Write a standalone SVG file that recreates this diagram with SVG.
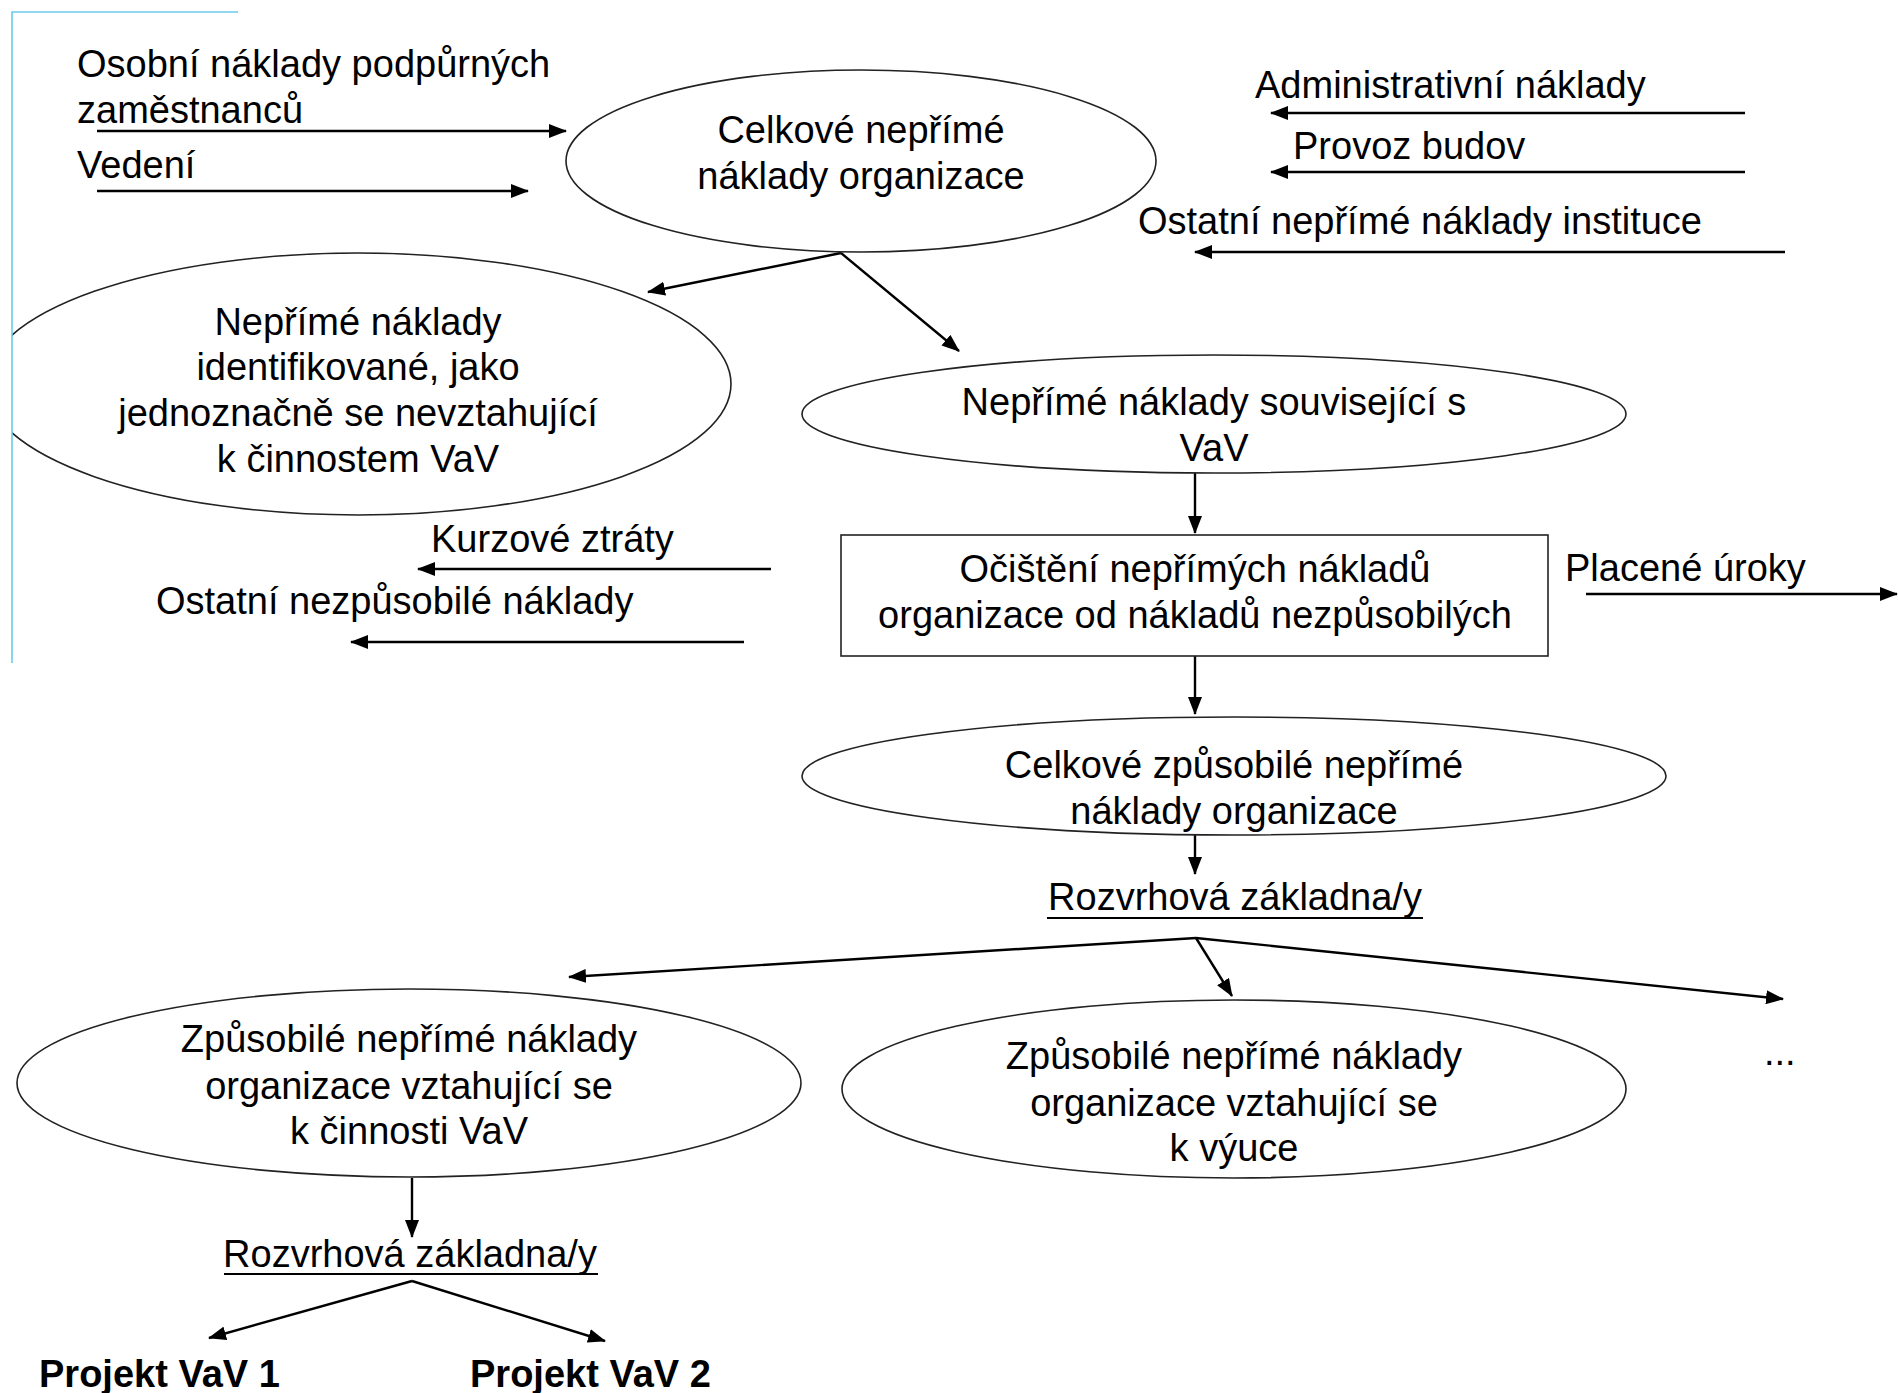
<svg xmlns="http://www.w3.org/2000/svg" width="1898" height="1393" viewBox="0 0 1898 1393">
<style>
text{font-family:"Liberation Sans",Arial,sans-serif;font-size:38px;fill:#000}
.c{text-anchor:middle}
.b{font-weight:bold}
.node{fill:#fff;stroke:#222;stroke-width:1.6}
.arr{stroke:#000;stroke-width:2.4;fill:none;marker-end:url(#ah)}
.ul{stroke:#000;stroke-width:2}
.frame{stroke:#6ccbea;stroke-width:1.6;fill:none}
</style>
<defs>
<marker id="ah" markerUnits="userSpaceOnUse" markerWidth="18" markerHeight="14" refX="17" refY="7" orient="auto">
<path d="M0,0 L18,7 L0,14 z" fill="#000"/>
</marker>
<clipPath id="clipL"><rect x="12" y="0" width="1886" height="1393"/></clipPath>
</defs>
<rect x="0" y="0" width="1898" height="1393" fill="#fff"/>

<g id="connectors">
<line class="arr" x1="97" y1="131" x2="566" y2="131"/>
<line class="arr" x1="97" y1="191" x2="528" y2="191"/>
<line class="arr" x1="1745" y1="113" x2="1271" y2="113"/>
<line class="arr" x1="1745" y1="172" x2="1271" y2="172"/>
<line class="arr" x1="1785" y1="252" x2="1195" y2="252"/>
<line class="arr" x1="841" y1="253" x2="648" y2="292"/>
<line class="arr" x1="841" y1="253" x2="959" y2="351"/>
<line class="arr" x1="1195" y1="473" x2="1195" y2="533"/>
<line class="arr" x1="771" y1="569" x2="418" y2="569"/>
<line class="arr" x1="744" y1="642" x2="351" y2="642"/>
<line class="arr" x1="1586" y1="594" x2="1897" y2="594"/>
<line class="arr" x1="1195" y1="656" x2="1195" y2="714"/>
<line class="arr" x1="1195" y1="835" x2="1195" y2="874"/>
<line class="arr" x1="1196" y1="938" x2="569" y2="977"/>
<line class="arr" x1="1196" y1="938" x2="1232" y2="996"/>
<line class="arr" x1="1196" y1="938" x2="1783" y2="999"/>
<line class="arr" x1="412" y1="1178" x2="412" y2="1237"/>
<line class="arr" x1="412" y1="1281" x2="209" y2="1338"/>
<line class="arr" x1="412" y1="1281" x2="605" y2="1341"/>
</g>

<g id="in-labels">
<text x="77" y="77">Osobní náklady podpůrných</text>
<text x="77" y="123">zaměstnanců</text>
<text x="77" y="178">Vedení</text>
<text x="1255" y="98">Administrativní náklady</text>
<text x="1293" y="159">Provoz budov</text>
<text x="1138" y="234">Ostatní nepřímé náklady instituce</text>
<text x="431" y="552">Kurzové ztráty</text>
<text x="156" y="614">Ostatní nezpůsobilé náklady</text>
<text x="1565" y="581">Placené úroky</text>
</g>

<g id="n-celkove">
<ellipse class="node" cx="861" cy="161" rx="295" ry="91"/>
<text class="c" x="861" y="143">Celkové nepřímé</text>
<text class="c" x="861" y="189">náklady organizace</text>
</g>

<g id="n-nevztahujici">
<ellipse class="node" cx="358" cy="384" rx="373" ry="131" clip-path="url(#clipL)"/>
<text class="c" x="358" y="335">Nepřímé náklady</text>
<text class="c" x="358" y="380">identifikované, jako</text>
<text class="c" x="358" y="426">jednoznačně se nevztahující</text>
<text class="c" x="358" y="472">k činnostem VaV</text>
</g>

<g id="n-souvisejici">
<ellipse class="node" cx="1214" cy="414" rx="412" ry="59"/>
<text class="c" x="1214" y="415">Nepřímé náklady související s</text>
<text class="c" x="1214" y="461">VaV</text>
</g>

<g id="n-ocisteni">
<rect class="node" x="841" y="535" width="707" height="121"/>
<text class="c" x="1195" y="582">Očištění nepřímých nákladů</text>
<text class="c" x="1195" y="628">organizace od nákladů nezpůsobilých</text>
</g>

<g id="n-zpusobile">
<ellipse class="node" cx="1234" cy="776" rx="432" ry="59"/>
<text class="c" x="1234" y="778">Celkové způsobilé nepřímé</text>
<text class="c" x="1234" y="824">náklady organizace</text>
</g>

<g id="n-rozvrhova1">
<text class="c" x="1235" y="910">Rozvrhová základna/y</text>
<line class="ul" x1="1047" y1="918" x2="1423" y2="918"/>
</g>

<g id="n-vav">
<ellipse class="node" cx="409" cy="1083" rx="392" ry="94"/>
<text class="c" x="409" y="1052">Způsobilé nepřímé náklady</text>
<text class="c" x="409" y="1099">organizace vztahující se</text>
<text class="c" x="409" y="1144">k činnosti VaV</text>
</g>

<g id="n-vyuka">
<ellipse class="node" cx="1234" cy="1089" rx="392" ry="89"/>
<text class="c" x="1234" y="1069">Způsobilé nepřímé náklady</text>
<text class="c" x="1234" y="1116">organizace vztahující se</text>
<text class="c" x="1234" y="1161">k výuce</text>
</g>

<g id="n-dots">
<text x="1764" y="1065">...</text>
</g>

<g id="n-rozvrhova2">
<text class="c" x="410" y="1267">Rozvrhová základna/y</text>
<line class="ul" x1="224" y1="1274" x2="598" y2="1274"/>
</g>

<g id="n-projekt1">
<text class="b" x="39" y="1387">Projekt VaV 1</text>
</g>
<g id="n-projekt2">
<text class="b" x="470" y="1387">Projekt VaV 2</text>
</g>

<path class="frame" d="M12,663 L12,12 L238,12"/>
</svg>
